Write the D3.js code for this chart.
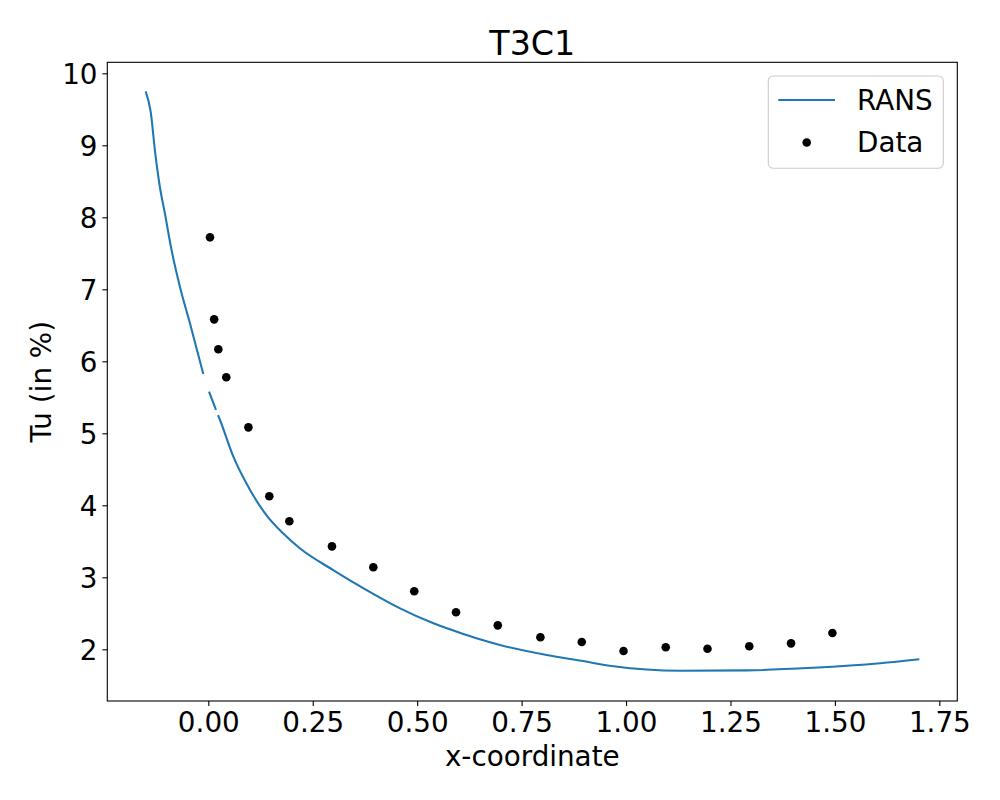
<!DOCTYPE html>
<html>
<head>
<meta charset="utf-8">
<script src="https://cdn.jsdelivr.net/npm/d3@7"></script>
<style>
  html, body { margin: 0; padding: 0; background: #fff; }
  svg text { font-family: "DejaVu Sans", sans-serif; fill: #000; }
</style>
</head>
<body>
<svg id="chart" width="1000" height="800"></svg>
<script>
// ---- data ----
const title = "T3C1";
const xLabel = "x-coordinate";
const yLabel = "Tu (in %)";

// RANS line (null = break in the line)
const ransX = [-0.150, -0.138, -0.127, -0.116, -0.104, -0.088, -0.068, -0.044, -0.012, null,
  0.0017, 0.0184, null, 0.0232, 0.028, 0.060, 0.100, 0.139, 0.179, 0.219, 0.299, 0.379,
  0.459, 0.539, 0.618, 0.650, 0.698, 0.810, 0.893, 0.970, 1.129, 1.289, 1.448, 1.608, 1.702];
const ransY = [9.75, 9.467, 8.889, 8.425, 8.056, 7.546, 7.036, 6.528, 5.824, null,
  5.578, 5.324, null, 5.254, 5.185, 4.675, 4.213, 3.865, 3.611, 3.403, 3.101, 2.822,
  2.569, 2.361, 2.199, 2.139, 2.060, 1.921, 1.840, 1.765, 1.703, 1.708, 1.744, 1.806, 1.861];

// measured data points
const dataX = [0.004, 0.014, 0.024, 0.043, 0.096, 0.146, 0.194, 0.296, 0.395, 0.493,
  0.593, 0.693, 0.795, 0.894, 0.994, 1.095, 1.195, 1.295, 1.395, 1.494];
const dataY = [7.722, 6.583, 6.167, 5.778, 5.083, 4.125, 3.778, 3.430, 3.139, 2.806,
  2.514, 2.333, 2.167, 2.101, 1.976, 2.028, 2.008, 2.042, 2.083, 2.226];

const xTicks = [0.00, 0.25, 0.50, 0.75, 1.00, 1.25, 1.50, 1.75];
const yTicks = [2, 3, 4, 5, 6, 7, 8, 9, 10];
const legendLabels = ["RANS", "Data"];

// ---- layout ----
const pL = 107.3, pR = 957.3, pT = 62.3, pB = 701;
const lineColor = "#1f77b4";
const fs = 27.8;

const x = d3.scaleLinear().domain([-0.2418, 1.793]).range([pL, pR]);
const y = d3.scaleLinear().domain([1.2822, 10.153]).range([pB, pT]);

const svg = d3.select("#chart");
svg.append("rect").attr("width", 1000).attr("height", 800).attr("fill", "#fff");

// clip
svg.append("defs").append("clipPath").attr("id", "clip")
  .append("rect").attr("x", pL).attr("y", pT).attr("width", pR - pL).attr("height", pB - pT);

// line
const ransData = ransX.map((v, i) => ({ x: v, y: ransY[i] }));
const line = d3.line()
  .defined(d => d.x !== null && d.y !== null)
  .curve(d3.curveMonotoneX)
  .x(d => x(d.x)).y(d => y(d.y));
svg.append("path")
  .attr("clip-path", "url(#clip)")
  .datum(ransData)
  .attr("d", line)
  .attr("fill", "none")
  .attr("stroke", lineColor)
  .attr("stroke-width", 2.08)
  .attr("stroke-linejoin", "round")
  .attr("stroke-linecap", "butt");

// points
const pts = dataX.map((v, i) => ({ x: v, y: dataY[i] }));
svg.append("g").attr("clip-path", "url(#clip)")
  .selectAll("circle").data(pts).join("circle")
  .attr("cx", d => x(d.x)).attr("cy", d => y(d.y))
  .attr("r", 4.3).attr("fill", "#000");

// axes
const xAxis = d3.axisBottom(x).tickValues(xTicks).tickFormat(d3.format(".2f"))
  .tickSizeInner(4.9).tickSizeOuter(0).tickPadding(4.9);
const yAxis = d3.axisLeft(y).tickValues(yTicks).tickFormat(d3.format("d"))
  .tickSizeInner(4.9).tickSizeOuter(0).tickPadding(4.9);

const gx = svg.append("g").attr("transform", `translate(0,${pB})`).call(xAxis);
const gy = svg.append("g").attr("transform", `translate(${pL},0)`).call(yAxis);
[gx, gy].forEach(g => {
  g.select(".domain").remove();
  g.selectAll(".tick line").attr("stroke", "#000").attr("stroke-width", 1.1);
  g.selectAll(".tick text").attr("font-size", fs).attr("font-family", "DejaVu Sans").attr("fill", "#000");
});
gx.selectAll(".tick text").attr("dy", "0.76em");
gy.selectAll(".tick text").attr("dy", "0.36em");

// frame
svg.append("rect").attr("x", pL).attr("y", pT)
  .attr("width", pR - pL).attr("height", pB - pT)
  .attr("fill", "none").attr("stroke", "#000").attr("stroke-width", 1.1);

// title & labels
svg.append("text").attr("x", (pL + pR) / 2).attr("y", 55)
  .attr("text-anchor", "middle").attr("font-size", 33.3).text(title);
svg.append("text").attr("x", (pL + pR) / 2).attr("y", 766)
  .attr("text-anchor", "middle").attr("font-size", fs).text(xLabel);
svg.append("text")
  .attr("transform", `translate(51,${(pT + pB) / 2}) rotate(-90)`)
  .attr("text-anchor", "middle").attr("font-size", fs).text(yLabel);

// legend
const lg = svg.append("g");
lg.append("rect").attr("x", 768.3).attr("y", 76).attr("width", 175).attr("height", 92.3)
  .attr("rx", 5).attr("ry", 5)
  .attr("fill", "#fff").attr("fill-opacity", 0.8)
  .attr("stroke", "#cccccc").attr("stroke-width", 1.1);
lg.append("line").attr("x1", 778.3).attr("x2", 835).attr("y1", 100).attr("y2", 100)
  .attr("stroke", lineColor).attr("stroke-width", 2.08);
lg.append("circle").attr("cx", 806.7).attr("cy", 142.5).attr("r", 4.3).attr("fill", "#000");
lg.append("text").attr("x", 857).attr("y", 109.5).attr("font-size", fs).text(legendLabels[0]);
lg.append("text").attr("x", 857).attr("y", 152).attr("font-size", fs).text(legendLabels[1]);
</script>
</body>
</html>
